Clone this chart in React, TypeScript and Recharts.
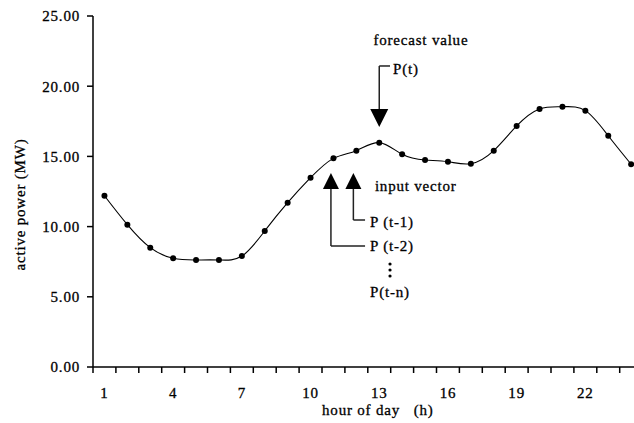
import React from 'react';
import { LineChart, Line, XAxis, YAxis, ReferenceLine, ReferenceDot, Label } from 'recharts';

const hours = [1, 2, 3, 4, 5, 6, 7, 8, 9, 10, 11, 12, 13, 14, 15, 16, 17, 18, 19, 20, 21, 22, 23, 24];
const power = [12.2, 10.14, 8.5, 7.74, 7.62, 7.62, 7.9, 9.69, 11.7, 13.48, 14.86, 15.41, 15.98, 15.15, 14.74, 14.62, 14.48, 15.41, 17.17, 18.38, 18.54, 18.26, 16.47, 14.44];
const yTicks = [0, 5, 10, 15, 20, 25];
const xLabelTicks = [1, 4, 7, 10, 13, 16, 19, 22];
const xBoundaryTicks = [0.5, 1.5, 2.5, 3.5, 4.5, 5.5, 6.5, 7.5, 8.5, 9.5, 10.5, 11.5, 12.5, 13.5, 14.5, 15.5, 16.5, 17.5, 18.5, 19.5, 20.5, 21.5, 22.5, 23.5, 24.5];

const data = hours.map((h, i) => ({ hour: h, power: power[i] }));
const allXTicks = [...xBoundaryTicks, ...xLabelTicks].sort((a, b) => a - b);

const FONT = "'Liberation Serif', 'Times New Roman', serif";
const LS = 0.8;
const txt = { fontFamily: FONT, fontSize: 15, fill: '#000', stroke: '#000', strokeWidth: 0.3, letterSpacing: LS } as const;

const XTick = (props: any) => {
  const { x, y, payload } = props;
  const v = payload.value;
  if (xLabelTicks.includes(v)) {
    return (
      <text x={x} y={y + 25} textAnchor="middle" {...txt}>
        {v}
      </text>
    );
  }
  return <line x1={x} x2={x} y1={y - 6} y2={y} stroke="#000" strokeWidth={1.5} />;
};

const downArrow = (p: any) => (
  <polygon points={`${p.cx - 9},${p.cy - 18} ${p.cx + 9},${p.cy - 18} ${p.cx},${p.cy}`} fill="#000" />
);
const upArrow = (p: any) => (
  <polygon points={`${p.cx - 8},${p.cy + 16} ${p.cx + 8},${p.cy + 16} ${p.cx},${p.cy}`} fill="#000" />
);
const textShape = (value: string, anchor: 'start' | 'middle') => (p: any) => (
  <text x={p.cx} y={p.cy} dy={5} textAnchor={anchor} {...txt}>
    {value}
  </text>
);
const vdots = (p: any) => (
  <g fill="#000">
    <circle cx={p.cx} cy={p.cy - 6} r={1.6} />
    <circle cx={p.cx} cy={p.cy} r={1.6} />
    <circle cx={p.cx} cy={p.cy + 6} r={1.6} />
  </g>
);

const annStroke = { stroke: '#222', strokeWidth: 1.5 };

export default function App() {
  return (
    <div style={{ position: 'absolute', left: 0, top: 0, width: 634, height: 423, overflow: 'hidden', background: '#fff' }}>
      <LineChart width={650} height={423} data={data} margin={{ top: 16, right: 7.4, bottom: 0, left: 0 }}>
        <XAxis
          dataKey="hour"
          type="number"
          domain={[0.5, 24.5]}
          ticks={allXTicks}
          interval={0}
          tick={<XTick />}
          tickLine={false}
          tickSize={6}
          tickMargin={0}
          height={56}
          axisLine={{ stroke: '#000', strokeWidth: 1.5 }}
        >
          <Label
            value={'hour of day\u00a0\u00a0\u00a0(h)'}
            position="insideBottom"
            offset={8}
            dx={10}
            style={{ fontFamily: FONT, fontSize: 15, fill: '#000', stroke: '#000', strokeWidth: 0.3, letterSpacing: LS }}
          />
        </XAxis>
        <YAxis
          domain={[0, 25]}
          ticks={yTicks}
          interval={0}
          width={93}
          tickFormatter={(v: number) => v.toFixed(2)}
          tick={{ ...txt }}
          tickSize={6}
          tickMargin={7}
          tickLine={{ stroke: '#000', strokeWidth: 1.5 }}
          axisLine={{ stroke: '#000', strokeWidth: 1.5 }}
        >
          <Label
            value="active power (MW)"
            angle={-90}
            position="center"
            dx={-26.5}
            dy={13}
            style={{ fontFamily: FONT, fontSize: 15, fill: '#000', stroke: '#000', strokeWidth: 0.3, letterSpacing: LS }}
          />
        </YAxis>

        <ReferenceLine segment={[{ x: 13, y: 21.44 }, { x: 13, y: 18.3 }]} {...annStroke} />
        <ReferenceLine segment={[{ x: 13, y: 21.44 }, { x: 13.47, y: 21.44 }]} {...annStroke} />
        <ReferenceDot x={13} y={17.09} r={0} shape={downArrow} />

        <ReferenceLine segment={[{ x: 10.89, y: 12.8 }, { x: 10.89, y: 8.62 }]} {...annStroke} />
        <ReferenceLine segment={[{ x: 10.89, y: 8.62 }, { x: 12.38, y: 8.62 }]} {...annStroke} />
        <ReferenceLine segment={[{ x: 11.87, y: 12.8 }, { x: 11.87, y: 10.47 }]} {...annStroke} />
        <ReferenceLine segment={[{ x: 11.87, y: 10.47 }, { x: 12.38, y: 10.47 }]} {...annStroke} />
        <ReferenceDot x={10.89} y={13.82} r={0} shape={upArrow} />
        <ReferenceDot x={11.87} y={13.82} r={0} shape={upArrow} />

        <ReferenceDot x={14.82} y={23.29} r={0} shape={textShape('forecast value', 'middle')} />
        <ReferenceDot x={13.6} y={21.22} r={0} shape={textShape('P(t)', 'start')} />
        <ReferenceDot x={12.81} y={12.89} r={0} shape={textShape('input vector', 'start')} />
        <ReferenceDot x={12.6} y={10.33} r={0} shape={textShape('P (t-1)', 'start')} />
        <ReferenceDot x={12.6} y={8.62} r={0} shape={textShape('P (t-2)', 'start')} />
        <ReferenceDot x={13.47} y={6.91} r={0} shape={vdots} />
        <ReferenceDot x={12.6} y={5.34} r={0} shape={textShape('P(t-n)', 'start')} />

        <Line
          type="natural"
          dataKey="power"
          stroke="#000"
          strokeWidth={1.1}
          dot={{ r: 3, fill: '#000', stroke: '#000', strokeWidth: 0 }}
          activeDot={false}
          isAnimationActive={false}
        />
      </LineChart>
    </div>
  );
}
